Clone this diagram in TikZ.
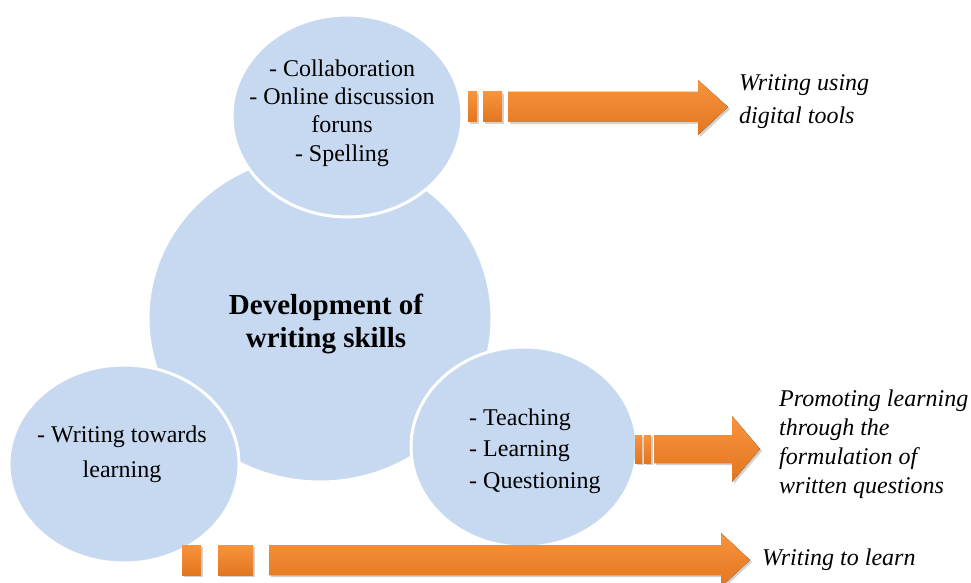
\documentclass[tikz,border=0pt]{standalone}
\usepackage{fontspec}
\setmainfont{Liberation Serif}
\usetikzlibrary{shapes.geometric}
\definecolor{cblue}{RGB}{198,217,240}
\definecolor{otop}{RGB}{248,148,60}
\definecolor{obot}{RGB}{226,118,32}
\begin{document}
\begin{tikzpicture}[x=1pt,y=-1pt,
  blob/.style={ellipse, fill=cblue, draw=white, line width=3pt, inner sep=0pt},
  txt/.style={align=center, inner sep=0pt, font=\fontsize{24}{28.3}\selectfont},
  itxt/.style={align=left, anchor=west, inner sep=0pt},
  ofill/.style={top color=otop, bottom color=obot, draw=none},
  oshadow/.style={fill=black, opacity=0.18, draw=none}]
\useasboundingbox (0,0) rectangle (971,583);
% circles
\node[blob, minimum width=344pt, minimum height=328pt] (main) at (320,318) {};
\node[blob, minimum width=230pt, minimum height=202pt] (top) at (347,116) {};
\node[blob, minimum width=230pt, minimum height=198pt] (bl) at (124,464) {};
\node[blob, minimum width=226pt, minimum height=200pt] (br) at (524,447) {};
% texts in circles
\node[txt] (topT) at (342,113) {- Collaboration\\- Online discussion\\foruns\\- Spelling};
\node[txt, font=\fontsize{29}{33}\selectfont\bfseries] (mainT) at (326,324) {Development of\\writing skills};
\node[txt, align=left, anchor=west, font=\fontsize{24}{31.5}\selectfont] (brT) at (469,451) {- Teaching\\- Learning\\- Questioning};
\node[txt, font=\fontsize{24}{35}\selectfont] (blT) at (122,454) {- Writing towards\\learning};
% block arrows
\foreach \s/\st in {2/oshadow,0/ofill}{
  \begin{scope}[shift={(\s,\s)}]
  % arrow 1 (top)
  \fill[\st] (468,92) rectangle (477,122);
  \fill[\st] (483,92) rectangle (502,122);
  \fill[\st] (508,92) -- (698,92) -- (698,80) -- (728,107) -- (698,135) -- (698,122) -- (508,122) -- cycle;
  % arrow 2 (middle)
  \fill[\st] (635,435) rectangle (642,463);
  \fill[\st] (644,435) rectangle (651,463);
  \fill[\st] (654,435) -- (732,435) -- (732,416) -- (760,449) -- (732,482) -- (732,463) -- (654,463) -- cycle;
  % arrow 3 (bottom)
  \fill[\st] (182,545) rectangle (201,575);
  \fill[\st] (218,545) rectangle (253,575);
  \fill[\st] (269,545) -- (721,545) -- (721,533) -- (750,560) -- (721,587) -- (721,575) -- (269,575) -- cycle;
  \end{scope}
}
% right texts
\node[itxt, font=\fontsize{24}{33}\selectfont\itshape] (r1) at (739,102) {Writing using\\digital tools};
\node[itxt, font=\fontsize{24}{29}\selectfont\itshape] (r2) at (779,444) {Promoting learning\\through the\\formulation of\\written questions};
\node[itxt, font=\fontsize{24}{29}\selectfont\itshape] (r3) at (762,560) {Writing to learn};
\end{tikzpicture}
\end{document}
